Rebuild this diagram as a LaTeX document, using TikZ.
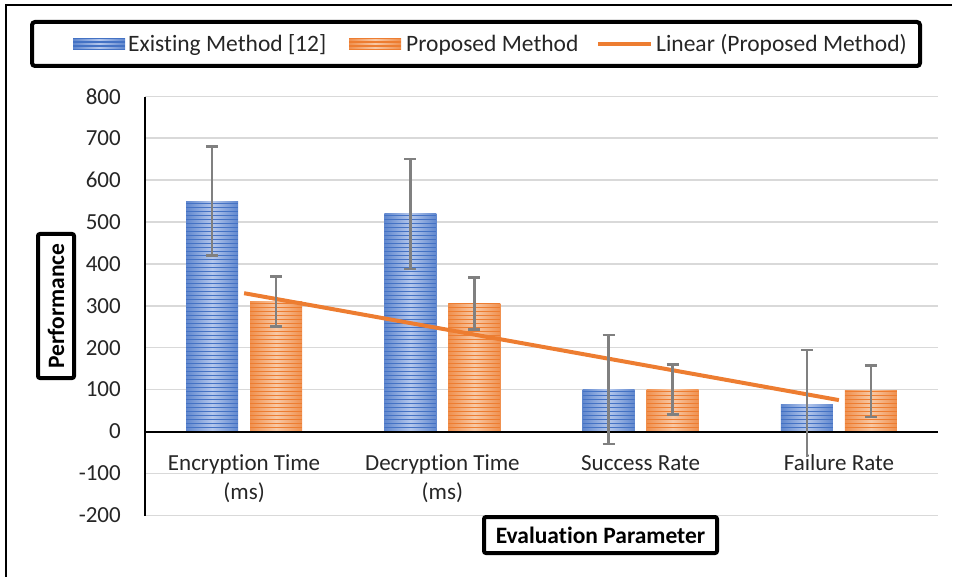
\documentclass[tikz,border=0pt]{standalone}
\usepackage{fontspec}
\setmainfont[Ligatures={NoCommon}]{Carlito}
\definecolor{exblue}{HTML}{4472C4}
\definecolor{exbluelt}{HTML}{B4C7EC}
\definecolor{proor}{HTML}{ED7D31}
\definecolor{proorlt}{HTML}{F8C9A6}
\definecolor{gridc}{HTML}{D9D9D9}
\definecolor{errc}{HTML}{808080}
\definecolor{txt}{HTML}{262626}
\tikzset{
  gridline/.style={gridc, line width=1.5pt},
  axisline/.style={black, line width=2pt},
  errline/.style={errc, line width=2.5pt},
  ticklabel/.style={anchor=east, inner sep=0pt, text=txt, font=\fontsize{23}{27}\selectfont},
  catlabel/.style={anchor=base, inner sep=0pt, text=txt, font=\fontsize{23}{27}\selectfont},
  legtext/.style={anchor=base west, inner sep=0pt, text=txt, font=\fontsize{23.5}{27}\selectfont},
  titlebox/.style={draw=black, line width=4pt, rounded corners=2pt, inner sep=0pt, text=black, font=\bfseries\fontsize{23.5}{28}\selectfont},
  trendline/.style={proor, line width=4pt},
}
% striped box: x1 y1(top) x2 y2(bottom) base light
\newcommand\stripebox[6]{%
  \shade[left color=#5!75!#6, right color=#5!75!#6, middle color=#6] (#1,#2) rectangle (#3,#4);
  \begin{scope}
    \clip (#1,#2) rectangle (#3,#4);
    \foreach \s in {0,4,...,400} \draw[#5, line width=1.8pt] (#1,#4-\s) -- (#3,#4-\s);
  \end{scope}}
\newcommand\databar[4]{% center, value, base, light
  \pgfmathsetmacro\ytop{431.5-0.419*#2}
  \stripebox{#1-26}{\ytop}{#1+26}{431.5}{#3}{#4}}
\newcommand\drawerr[4]{% center, low, high, lowcap(1/0)
  \pgfmathsetmacro\ylo{431.5-0.419*#2}
  \pgfmathsetmacro\yhi{431.5-0.419*#3}
  \draw[errline] (#1,\ylo) -- (#1,\yhi);
  \draw[errline] (#1-6,\yhi) -- (#1+6,\yhi);
  \ifnum#4=1 \draw[errline] (#1-6,\ylo) -- (#1+6,\ylo);\fi}
\begin{document}
\begin{tikzpicture}[x=1pt, y=-1pt]
\useasboundingbox (0,0) rectangle (956,577);
% outer frame
\draw[line width=2pt] (6,577) -- (6,5) -- (952,5);
% legend
\node[draw=black, line width=4pt, rounded corners=3pt, minimum width=888pt, minimum height=44pt, inner sep=0pt] (legend) at (476,44) {};
\stripebox{73}{39}{125}{50}{exblue}{exbluelt}
\node[legtext] (leg1) at (128,52) {Existing Method [12]};
\stripebox{349}{39}{401}{50}{proor}{proorlt}
\node[legtext] (leg2) at (406,52) {Proposed Method};
\coordinate (lgA) at (598,44);
\coordinate (lgB) at (651,44);
\draw[trendline] (lgA) -- (lgB);
\node[legtext] (leg3) at (656,52) {Linear (Proposed Method)};
% grid lines and tick labels
\foreach \v [count=\i] in {-200,-100,100,200,300,400,500,600,700,800} {
  \pgfmathsetmacro\yy{431.5-0.419*\v}
  \draw[gridline] (145,\yy) -- (938,\yy);
}
\foreach \v [count=\i] in {-200,-100,0,100,200,300,400,500,600,700,800} {
  \pgfmathsetmacro\yy{431.5-0.419*\v}
  \node[ticklabel] (tk\i) at (121,\yy) {\v};
}
% bars
\databar{212.1}{550}{exblue}{exbluelt}
\databar{276.1}{310}{proor}{proorlt}
\databar{410.4}{520}{exblue}{exbluelt}
\databar{474.4}{305}{proor}{proorlt}
\databar{608.6}{100}{exblue}{exbluelt}
\databar{672.6}{100}{proor}{proorlt}
\databar{806.9}{65}{exblue}{exbluelt}
\databar{870.9}{97}{proor}{proorlt}
% axes
\draw[axisline] (145,97) -- (145,516);
\draw[axisline] (145,431.5) -- (938,431.5);
% category labels
\node[catlabel] (c1a) at (244.1,470) {Encryption Time};
\node[catlabel] (c1b) at (244.1,499.5) {(ms)};
\node[catlabel] (c2a) at (442.4,470) {Decryption Time};
\node[catlabel] (c2b) at (442.4,499.5) {(ms)};
\node[catlabel] (c3) at (640.6,470) {Success Rate};
\node[catlabel] (c4) at (838.9,470) {Failure Rate};
% trend line
\coordinate (tr1) at (244.1,293.2);
\coordinate (tr4) at (838.9,400.1);
\draw[trendline] (tr1) -- (tr4);
% error bars
\drawerr{212.1}{420}{680}{1}
\drawerr{276.1}{250}{370}{1}
\drawerr{410.4}{388}{650}{1}
\drawerr{474.4}{243}{367}{1}
\drawerr{608.6}{-30}{230}{1}
\drawerr{672.6}{40}{160}{1}
\drawerr{806.9}{-61}{195}{0}
\drawerr{870.9}{35}{157}{1}
% axis titles
\node[titlebox, rotate=90, minimum width=144pt, minimum height=36pt] (ytitle) at (56,306) {Performance};
\node[titlebox, minimum width=233pt, minimum height=36pt] (xtitle) at (600.5,535) {Evaluation Parameter};
\end{tikzpicture}
\end{document}
